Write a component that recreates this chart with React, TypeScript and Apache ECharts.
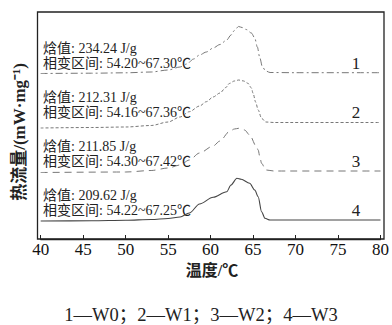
import React, { useEffect, useRef } from "react";
import * as echarts from "echarts";

const xTicks = [40, 45, 50, 55, 60, 65, 70, 75, 80];

const w0Temp = [40, 46, 50, 53, 55, 56.4, 57.2, 58.0, 58.7, 59.5, 60.3, 61.1, 61.9, 62.4, 62.8, 63.3, 63.7, 64.2, 64.8, 65.2, 65.5, 65.8, 66.1, 66.5, 67.0, 70, 80];
const w0Flow = [16.55, 16.58, 16.62, 16.7, 16.9, 17.2, 17.5, 18.0, 18.4, 18.7, 19.1, 19.45, 19.9, 20.4, 20.85, 21.25, 21.15, 20.95, 20.6, 20.1, 19.2, 18.1, 17.2, 16.8, 16.65, 16.63, 16.63];

const w1Temp = [40, 46, 50, 53, 55, 56.4, 57.5, 58.7, 59.5, 60.3, 61.1, 61.8, 62.2, 62.8, 63.3, 63.9, 64.4, 64.8, 65.0, 65.3, 65.6, 66.0, 66.5, 67.5, 80];
const w1Flow = [11.1, 11.15, 11.2, 11.35, 11.7, 12.2, 12.73, 13.3, 13.73, 14.2, 14.6, 15.15, 15.55, 15.8, 15.9, 15.8, 15.57, 15.1, 14.57, 13.7, 12.9, 12.07, 11.7, 11.65, 11.65];

const w2Temp = [40, 50, 53, 55, 56.4, 57.5, 58.7, 60.3, 61.1, 62.2, 62.8, 63.3, 64.0, 64.6, 65.4, 65.6, 65.8, 66.0, 66.5, 67.5, 80];
const w2Flow = [6.65, 6.7, 6.85, 7.1, 7.4, 7.9, 8.6, 9.3, 9.8, 10.73, 11.0, 11.07, 10.9, 10.4, 9.23, 8.9, 8.2, 7.57, 6.9, 6.8, 6.8];

const w3Temp = [40, 46, 50, 53, 55, 56.4, 57.5, 58.7, 60.3, 61.9, 62.4, 63.1, 63.6, 64.6, 65.2, 65.6, 66.0, 66.4, 67.0, 80];
const w3Flow = [1.8, 1.82, 1.87, 1.95, 2.05, 2.2, 2.6, 3.5, 4.17, 4.73, 5.4, 6.07, 5.97, 5.57, 4.9, 4.23, 2.73, 2.07, 1.9, 1.9];

const enthalpies = ["234.24", "212.31", "211.85", "209.62"];
const ranges = ["54.20~67.30", "54.16~67.36", "54.30~67.42", "54.22~67.25"];
const curveLabels = ["1", "2", "3", "4"];
const legendText = "1—W0；2—W1；3—W2；4—W3";

const FONT = "'Liberation Serif', 'Noto Sans CJK SC', serif";

function zip(a: number[], b: number[]) {
  return a.map((v, i) => [v, b[i]]);
}

export default function App() {
  const ref = useRef<HTMLDivElement>(null);
  useEffect(() => {
    if (!ref.current) return;
    const chart = echarts.init(ref.current, null, { renderer: "svg" });
    const lineBase = { type: "line", showSymbol: false, smooth: 0.3, smoothMonotone: "x" } as any;
    const graphics: any[] = [
      {
        type: "rect",
        shape: { x: 37.5, y: 12, width: 346.5, height: 227 },
        style: { fill: "none", stroke: "#222", lineWidth: 1.3 },
        z: 10,
      },
      {
        type: "text",
        x: 19,
        y: 132,
        rotation: Math.PI / 2,
        style: {
          text: "热流量/(mW·mg⁻¹)",
          fontFamily: FONT,
          fontSize: 17,
          fontWeight: "bold",
          fill: "#222",
          align: "center",
          verticalAlign: "middle",
        },
      },
      {
        type: "text",
        x: 212,
        y: 270,
        style: {
          text: "温度/℃",
          fontFamily: FONT,
          fontSize: 16,
          fontWeight: "bold",
          fill: "#222",
          align: "center",
          verticalAlign: "middle",
        },
      },
      {
        type: "text",
        x: 201,
        y: 315,
        style: {
          text: legendText,
          fontFamily: FONT,
          fontSize: 18.5,
          fill: "#222",
          align: "center",
          verticalAlign: "middle",
        },
      },
    ];
    enthalpies.forEach((e, i) => {
      graphics.push({
        type: "text",
        x: 43,
        y: 48 + 49 * i,
        style: { text: `焓值: ${e} J/g`, fontFamily: FONT, fontSize: 14, fill: "#222", verticalAlign: "middle" },
      });
      graphics.push({
        type: "text",
        x: 43,
        y: 63 + 49 * i,
        style: { text: `相变区间: ${ranges[i]}℃`, fontFamily: FONT, fontSize: 14, fill: "#222", verticalAlign: "middle" },
      });
      graphics.push({
        type: "text",
        x: 356,
        y: 63 + 49 * i,
        style: { text: curveLabels[i], fontFamily: FONT, fontSize: 17, fill: "#222", align: "center", verticalAlign: "middle" },
      });
    });

    chart.setOption({
      animation: false,
      grid: { left: 40.7, right: 11, top: 12, bottom: 86 },
      xAxis: {
        type: "value",
        min: 40,
        max: 80,
        interval: 5,
        splitLine: { show: false },
        axisLine: { lineStyle: { color: "#222", width: 1.3 } },
        axisTick: { inside: true, length: 4, lineStyle: { color: "#222" } },
        axisLabel: { color: "#111", fontFamily: FONT, fontSize: 17, margin: 2 },
      },
      yAxis: {
        type: "value",
        min: 0,
        max: 22.7,
        show: false,
      },
      series: [
        { ...lineBase, name: "W0", data: zip(w0Temp, w0Flow), lineStyle: { color: "#777", width: 1, type: [7, 3, 2, 3] } },
        { ...lineBase, name: "W1", data: zip(w1Temp, w1Flow), lineStyle: { color: "#777", width: 1, type: [3, 2] } },
        { ...lineBase, name: "W2", data: zip(w2Temp, w2Flow), lineStyle: { color: "#777", width: 1, type: [7, 5] } },
        { ...lineBase, name: "W3", data: zip(w3Temp, w3Flow), lineStyle: { color: "#444", width: 1.1, type: "solid" } },
      ],
      graphic: graphics,
    });
    return () => chart.dispose();
  }, []);
  return <div ref={ref} style={{ width: 392, height: 325, position: "absolute", left: 0, top: 0 }} />;
}
